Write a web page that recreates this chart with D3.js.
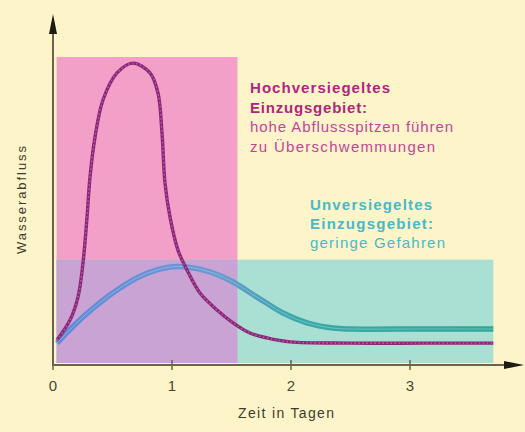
<!DOCTYPE html>
<html>
<head>
<meta charset="utf-8">
<script src="https://cdn.jsdelivr.net/npm/d3@7"></script>
<style>
  body { margin: 0; background: #fdf5c9; }
  svg { display: block; font-family: "Liberation Sans", Arial, sans-serif; }
</style>
</head>
<body>
<svg id="chart"></svg>
<script>
// Abfluss (relative Werte) über die Zeit in Tagen
var versiegeltTage = [0.034, 0.143, 0.21, 0.252, 0.286, 0.311, 0.353, 0.42, 0.538, 0.672, 0.815, 0.882, 0.916, 0.941, 0.983,
                      1.05, 1.126, 1.235, 1.378, 1.513, 1.655, 1.798, 1.992, 2.5, 3.1, 3.70];
var versiegeltWerte = [7.8, 14.3, 21.8, 32.9, 47.9, 60.9, 73.9, 86.0, 94.8, 98.0, 94.8, 88.3, 75.2, 59.0, 47.9,
                       37.1, 30.6, 23.1, 17.6, 13.4, 10.1, 8.5, 7.2, 6.8, 6.8, 6.8];

var unversiegeltTage = [0.034, 0.252, 0.538, 0.756, 0.983, 1.126, 1.319, 1.513, 1.714, 1.933, 2.134, 2.353, 2.5, 3.1, 3.70];
var unversiegeltWerte = [6.8, 15.3, 24.1, 29.0, 31.6, 31.6, 30.0, 26.7, 21.8, 16.6, 13.4, 11.7, 11.4, 11.4, 11.4];

// Hintergrundflächen: [von Tag, bis Tag, bis Wert]
var flaecheVersiegelt = [0.03, 1.55, 100];
var flaecheUnversiegelt = [0.03, 3.70, 34];

var tickWerte = [0, 1, 2, 3];
var textVersiegelt = ["Hochversiegeltes", "Einzugsgebiet:", "hohe Abflussspitzen führen", "zu Überschwemmungen"];
var textUnversiegelt = ["Unversiegeltes", "Einzugsgebiet:", "geringe Gefahren"];

var width = 525, height = 432;
var svg = d3.select("#chart").attr("width", width).attr("height", height);

var x = d3.scaleLinear().domain([0, 1]).range([53, 172]);
var y = d3.scaleLinear().domain([0, 100]).range([364, 57]);

// Flächen
function rect(f, fill, bis) {
  svg.append("rect")
    .attr("x", x(f[0]))
    .attr("y", y(bis))
    .attr("width", x(f[1]) - x(f[0]))
    .attr("height", y(0) - y(bis) - 1)
    .attr("fill", fill);
}
rect(flaecheVersiegelt, "#f3a0c9", flaecheVersiegelt[2]);
rect(flaecheUnversiegelt, "#aae0d3", flaecheUnversiegelt[2]);
rect([flaecheVersiegelt[0], Math.min(flaecheVersiegelt[1], flaecheUnversiegelt[1])], "#c9a3d3",
     Math.min(flaecheVersiegelt[2], flaecheUnversiegelt[2]));

// Kurven
var line = d3.line().x(d => x(d[0])).y(d => y(d[1])).curve(d3.curveCatmullRom.alpha(0.5));

var grad = svg.append("defs").append("linearGradient")
  .attr("id", "blau").attr("gradientUnits", "userSpaceOnUse")
  .attr("x1", x(0)).attr("x2", x(3.7)).attr("y1", 0).attr("y2", 0);
grad.append("stop").attr("offset", "0%").attr("stop-color", "#6088d8");
grad.append("stop").attr("offset", "35%").attr("stop-color", "#7096d6");
grad.append("stop").attr("offset", "55%").attr("stop-color", "#3aa8aa");
grad.append("stop").attr("offset", "100%").attr("stop-color", "#2ea895");

var unv = d3.zip(unversiegeltTage, unversiegeltWerte);
svg.append("path").attr("d", line(unv))
  .attr("fill", "none").attr("stroke", "url(#blau)").attr("stroke-width", 5.5);
svg.append("path").attr("d", line(unv))
  .attr("fill", "none").attr("stroke", "#a5d8e4").attr("stroke-width", 1).attr("opacity", 0.5);

var ver = d3.zip(versiegeltTage, versiegeltWerte);
svg.append("path").attr("d", line(ver))
  .attr("fill", "none").attr("stroke", "#872878").attr("stroke-width", 3.4);
svg.append("path").attr("d", line(ver))
  .attr("fill", "none").attr("stroke", "#c85aa8").attr("stroke-width", 1.4)
  .attr("stroke-dasharray", "1.5,2.5");

// Achsen
var axisColor = "#6a6350";
svg.append("line").attr("x1", x(0)).attr("x2", 512).attr("y1", y(0) + 1).attr("y2", y(0) + 1)
  .attr("stroke", axisColor).attr("stroke-width", 2);
svg.append("line").attr("x1", x(0)).attr("x2", x(0)).attr("y1", y(0) + 2).attr("y2", 30)
  .attr("stroke", axisColor).attr("stroke-width", 2);
svg.append("path").attr("d", "M" + (x(0) - 4) + ",34 L" + x(0) + ",14 L" + (x(0) + 4) + ",34 Z")
  .attr("fill", "#1e1a14");
svg.append("path").attr("d", "M504," + (y(0) - 3) + " L524," + (y(0) + 1) + " L504," + (y(0) + 5) + " Z")
  .attr("fill", "#1e1a14");

svg.selectAll(".tick").data(tickWerte).enter().append("line")
  .attr("x1", d => x(d)).attr("x2", d => x(d))
  .attr("y1", y(0) - 4).attr("y2", y(0) + 6)
  .attr("stroke", axisColor).attr("stroke-width", 1.5);
svg.selectAll(".ticklabel").data(tickWerte).enter().append("text")
  .attr("x", d => x(d)).attr("y", 391)
  .attr("text-anchor", "middle").attr("font-size", 15).attr("fill", "#4a4535")
  .text(d => d);

svg.append("text").attr("x", 286).attr("y", 418).attr("text-anchor", "middle")
  .attr("font-size", 14).attr("fill", "#3e3a2c").attr("textLength", 96).text("Zeit in Tagen");
svg.append("text").attr("transform", "translate(26,200) rotate(-90)")
  .attr("text-anchor", "middle").attr("font-size", 13).attr("fill", "#3e3a2c")
  .attr("textLength", 108).text("Wasserabfluss");

// Beschriftungen (Breiten aus der Vorlage gemessen)
var breitenVersiegelt = [140, 117, 203, 185];
var breitenUnversiegelt = [122, 123, 135];

svg.selectAll(".tv").data(textVersiegelt).enter().append("text")
  .attr("x", 250).attr("y", (d, i) => 93 + i * 19.5)
  .attr("font-size", 15)
  .attr("textLength", (d, i) => breitenVersiegelt[i]).attr("lengthAdjust", "spacing")
  .attr("font-weight", (d, i) => i < 2 ? "bold" : "normal")
  .attr("fill", (d, i) => i < 2 ? "#b0257f" : "#c2449c")
  .text(d => d);

svg.selectAll(".tu").data(textUnversiegelt).enter().append("text")
  .attr("x", 310).attr("y", (d, i) => 210 + i * 19)
  .attr("font-size", 15)
  .attr("textLength", (d, i) => breitenUnversiegelt[i]).attr("lengthAdjust", "spacing")
  .attr("font-weight", (d, i) => i < 2 ? "bold" : "normal")
  .attr("fill", "#48b9c6")
  .text(d => d);
</script>
</body>
</html>
